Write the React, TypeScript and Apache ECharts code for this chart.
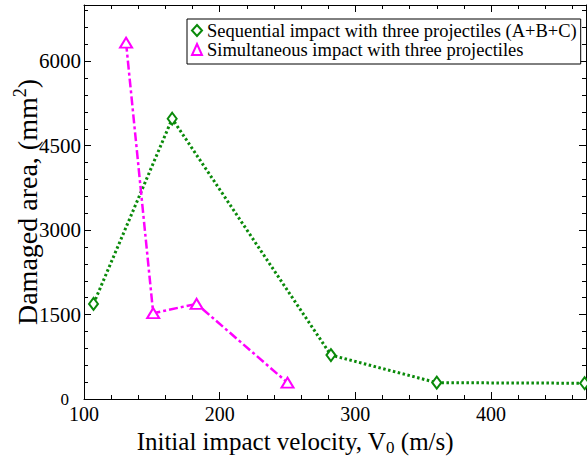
import React, { useEffect, useRef } from "react";
import * as echarts from "echarts";

const seqName = "Sequential impact with three projectiles (A+B+C)";
const simName = "Simultaneous impact with three projectiles";
const seqVelocity = [107, 165, 282, 360, 469];
const seqArea = [1690, 4980, 780, 290, 280];
const simVelocity = [131, 151, 183, 250];
const simArea = [6330, 1525, 1690, 290];

const GREEN = "#0a8a0a";
const MAGENTA = "#ff00ff";
const FONT = "Liberation Serif";

export default function App() {
  const ref = useRef<HTMLDivElement>(null);
  useEffect(() => {
    if (!ref.current) return;
    const chart = echarts.init(ref.current, null, { renderer: "svg" });
    const xMin = 100, xMax = 470, yMin = 0, yMax = 7000;
    const majorX = (pos: string, labels: boolean) => ({
      type: "value", position: pos, min: xMin, max: xMax, interval: 100,
      axisLine: { show: true, onZero: false, lineStyle: { color: "#000", width: 1 } },
      axisTick: { show: true, inside: true, length: 7, lineStyle: { color: "#000", width: 1 } },
      axisLabel: labels ? { show: true, fontFamily: FONT, fontSize: 20, color: "#000", margin: 5, showMaxLabel: false } : { show: false },
      splitLine: { show: false },
    });
    const minorX = (pos: string) => ({
      type: "value", position: pos, min: xMin, max: xMax, interval: 20,
      axisLine: { show: false, onZero: false },
      axisTick: { show: true, inside: true, length: 4, lineStyle: { color: "#000", width: 1 } },
      axisLabel: { show: false }, splitLine: { show: false },
    });
    const majorY = (pos: string, labels: boolean) => ({
      type: "value", position: pos, min: yMin, max: yMax, interval: 1500,
      axisLine: { show: true, onZero: false, lineStyle: { color: "#000", width: 1 } },
      axisTick: { show: true, inside: true, length: 7, lineStyle: { color: "#000", width: 1 } },
      axisLabel: labels ? {
        show: true, fontFamily: FONT, fontSize: 21, color: "#000", margin: 3, showMaxLabel: false,
        formatter: (v: number) => (v === 0 ? "{z|0}" : String(v)),
        rich: { z: { fontFamily: FONT, fontSize: 17, color: "#000", padding: [0, 12, 0, 0] } },
      } : { show: false },
      splitLine: { show: false },
    });
    const minorY = (pos: string) => ({
      type: "value", position: pos, min: yMin, max: yMax, interval: 300,
      axisLine: { show: false, onZero: false },
      axisTick: { show: true, inside: true, length: 4, lineStyle: { color: "#000", width: 1 } },
      axisLabel: { show: false }, splitLine: { show: false },
    });
    chart.setOption({
      animation: false,
      backgroundColor: "#fff",
      textStyle: { fontFamily: FONT },
      grid: { left: 84, right: 1, top: 5, bottom: 60, containLabel: false },
      xAxis: [majorX("bottom", true), majorX("top", false), minorX("bottom"), minorX("top")],
      yAxis: [majorY("left", true), majorY("right", false), minorY("left"), minorY("right")],
      legend: {
        left: 187, top: 19, orient: "vertical",
        backgroundColor: "#fff", borderColor: "#000", borderWidth: 1, borderRadius: 0,
        padding: [2, 4, 5, 4], itemGap: 0, itemWidth: 10, itemHeight: 11,
        textStyle: { fontFamily: FONT, fontSize: 18.5, lineHeight: 18, color: "#000" },
        data: [
          { name: seqName, icon: "emptyDiamond" },
          { name: simName, icon: "emptyTriangle" },
        ],
      },
      graphic: [
        {
          type: "text", x: 295, y: 441,
          style: {
            text: "{a|Initial impact velocity, V}{s|0}{a| (m/s)}",
            fontFamily: FONT, fontSize: 25,
            align: "center", verticalAlign: "middle", fill: "#000",
            rich: {
              a: { fontFamily: FONT, fontSize: 25, lineHeight: 30, fill: "#000" },
              s: { fontFamily: FONT, fontSize: 17, lineHeight: 16, verticalAlign: "bottom", fill: "#000" },
            },
          },
        },
        {
          type: "text", x: 27, y: 202, rotation: Math.PI / 2,
          style: {
            text: "{a|Damaged area, (mm}{p|2}{a|)}",
            fontFamily: FONT, fontSize: 28,
            align: "center", verticalAlign: "middle", fill: "#000",
            rich: {
              a: { fontFamily: FONT, fontSize: 28, lineHeight: 32, fill: "#000" },
              p: { fontFamily: FONT, fontSize: 18, lineHeight: 17, verticalAlign: "top", fill: "#000" },
            },
          },
        },
      ],
      series: [
        {
          name: seqName, type: "line", xAxisIndex: 0, yAxisIndex: 0,
          data: seqVelocity.map((v, i) => [v, seqArea[i]]),
          symbol: "emptyDiamond", symbolSize: [9, 12],
          itemStyle: { color: GREEN, borderWidth: 1.3 },
          lineStyle: { color: GREEN, width: 3, type: [2.5, 2.5] },
          clip: false,
        },
        {
          name: simName, type: "line", xAxisIndex: 0, yAxisIndex: 0,
          data: simVelocity.map((v, i) => [v, simArea[i]]),
          symbol: "emptyTriangle", symbolSize: [12, 10],
          itemStyle: { color: MAGENTA, borderWidth: 1.3 },
          lineStyle: { color: MAGENTA, width: 2.5, type: [9, 3, 3, 3] },
          clip: false,
        },
      ],
    });
    return () => chart.dispose();
  }, []);
  return <div ref={ref} style={{ width: 587, height: 459, position: "absolute", left: 0, top: 0 }} />;
}
